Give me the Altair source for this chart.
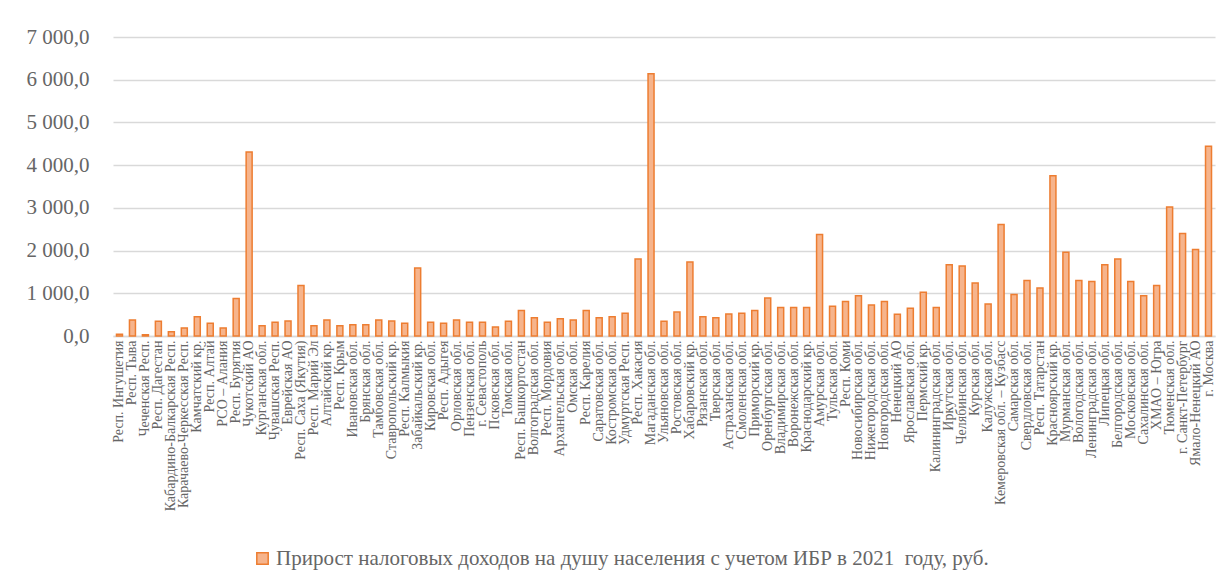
import altair as alt
import pandas as pd

regions = [
    "Респ. Ингушетия", "Респ. Тыва", "Чеченская Респ.", "Респ. Дагестан",
    "Кабардино-Балкарская Респ.", "Карачаево-Черкесская Респ.", "Камчатский кр.",
    "Респ. Алтай", "РСО – Алания", "Респ. Бурятия", "Чукотский АО",
    "Курганская обл.", "Чувашская Респ.", "Еврейская АО", "Респ. Саха (Якутия)",
    "Респ. Марий Эл", "Алтайский кр.", "Респ. Крым", "Ивановская обл.",
    "Брянская обл.", "Тамбовская обл.", "Ставропольский кр.", "Респ. Калмыкия",
    "Забайкальский кр.", "Кировская обл.", "Респ. Адыгея", "Орловская обл.",
    "Пензенская обл.", "г. Севастополь", "Псковская обл.", "Томская обл.",
    "Респ. Башкортостан", "Волгоградская обл.", "Респ. Мордовия",
    "Архангельская обл.", "Омская обл.", "Респ. Карелия", "Саратовская обл.",
    "Костромская обл.", "Удмуртская Респ.", "Респ. Хакасия", "Магаданская обл.",
    "Ульяновская обл.", "Ростовская обл.", "Хабаровский кр.", "Рязанская обл.",
    "Тверская обл.", "Астраханская обл.", "Смоленская обл.", "Приморский кр.",
    "Оренбургская обл.", "Владимирская обл.", "Воронежская обл.",
    "Краснодарский кр.", "Амурская обл.", "Тульская обл.", "Респ. Коми",
    "Новосибирская обл.", "Нижегородская обл.", "Новгородская обл.",
    "Ненецкий АО", "Ярославская обл.", "Пермский кр.", "Калининградская обл.",
    "Иркутская обл.", "Челябинская обл.", "Курская обл.", "Калужская обл.",
    "Кемеровская обл. – Кузбасс", "Самарская обл.", "Свердловская обл.",
    "Респ. Татарстан", "Красноярский кр.", "Мурманская обл.", "Вологодская обл.",
    "Ленинградская обл.", "Липецкая обл.", "Белгородская обл.",
    "Московская обл.", "Сахалинская обл.", "ХМАО – Югра", "Тюменская обл.",
    "г. Санкт-Петербург", "Ямало-Ненецкий АО", "г. Москва",
]

values = [
    40, 375, 30, 345, 100, 190, 450, 300, 190, 880,
    4310, 240, 320, 350, 1180, 240, 375, 240, 265, 265,
    375, 350, 300, 1590, 320, 300, 375, 320, 320, 210,
    345, 595, 430, 320, 405, 375, 595, 430, 450, 530,
    1800, 6140, 345, 560, 1730, 450, 430, 515, 530, 595,
    890, 670, 670, 670, 2375, 695, 805, 945, 725, 805,
    510, 650, 1025, 670, 1670, 1640, 1240, 750, 2610, 970,
    1300, 1125, 3750, 1960, 1300, 1275, 1670, 1805, 1275, 945,
    1180, 3020, 2400, 2025, 4445,
]

series_name = "Прирост налоговых доходов на душу населения с учетом ИБР в 2021\u00a0 году, руб."
y_ticks = [0, 1000, 2000, 3000, 4000, 5000, 6000, 7000]

df = pd.DataFrame({"region": regions, "value": values, "series": series_name})

font = "'Liberation Serif', 'Times New Roman', serif"
gray = "#666666"

chart = alt.Chart(df).mark_bar(
    stroke="#ed7d31", strokeWidth=1.5, width=6
).encode(
    x=alt.X("region:N", sort=None, title=None,
            axis=alt.Axis(labelAngle=-90, labelFont=font, labelFontSize=14,
                          labelColor=gray, labelPadding=4, ticks=False,
                          domainColor="#d9d9d9", domainWidth=1.5,
                          labelLimit=300, labelOverlap=False)),
    y=alt.Y("value:Q", title=None,
            scale=alt.Scale(domain=[0, 7000], nice=False),
            axis=alt.Axis(values=y_ticks, labelFont=font, labelFontSize=21,
                          labelColor=gray, labelPadding=24, ticks=False,
                          domain=False, gridColor="#d9d9d9", gridWidth=1.5,
                          labelExpr="datum.value == 0 ? '0,0' : format(datum.value / 1000, 'd') + ' 000,0'")),
    color=alt.Color("series:N", title=None,
                    scale=alt.Scale(range=["#f6b48c"]),
                    legend=alt.Legend(orient="none", legendX=139, legendY=511,
                                      symbolType="square", symbolSize=130,
                                      symbolStrokeColor="#ed7d31",
                                      symbolStrokeWidth=1.5, labelOffset=3,
                                      labelFont=font, labelFontSize=21,
                                      labelColor=gray, labelLimit=1000)),
).properties(
    width=1102, height=299,
    autosize=alt.AutoSizeParams(type="none"),
    padding={"left": 105, "top": 29, "right": 6, "bottom": 236},
).configure(font=font).configure_view(stroke=None)

chart.save("out.html", embed_options={"renderer": "svg", "actions": False})
